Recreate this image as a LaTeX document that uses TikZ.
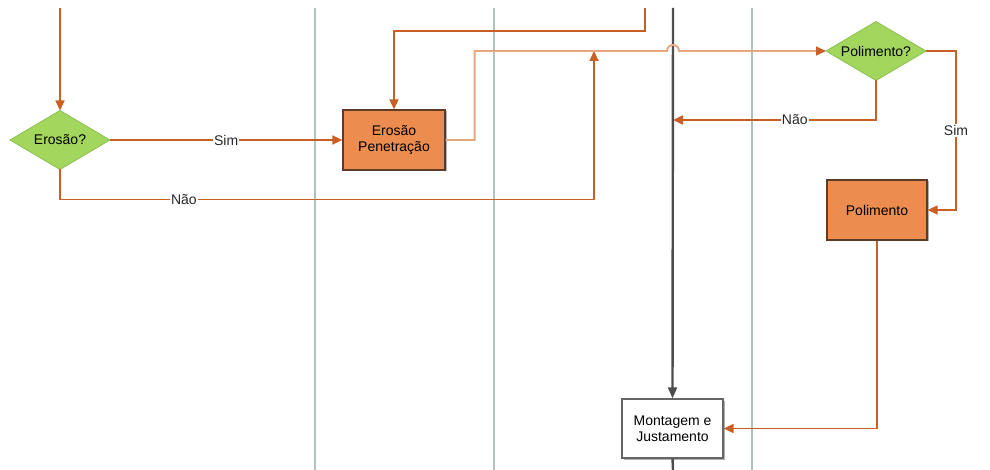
\documentclass[tikz,border=0pt]{standalone}
\usepackage{fontspec}
\setmainfont{Liberation Sans}
\usetikzlibrary{arrows.meta,shapes.geometric,shadows,calc}

\definecolor{flow}{HTML}{C95F24}
\definecolor{flowlight}{HTML}{E9A57F}
\definecolor{taskfill}{HTML}{EC8C4F}
\definecolor{taskline}{HTML}{5C3B28}
\definecolor{decfill}{HTML}{A2D65C}
\definecolor{decline}{HTML}{8CC152}
\definecolor{lane}{HTML}{AFC3BE}
\definecolor{spinegray}{HTML}{4D4D4D}
\definecolor{labeltext}{HTML}{262626}

\begin{document}
\begin{tikzpicture}[x=1pt,y=-1pt,
  font=\fontsize{14}{16.5}\selectfont,
  boxshadow/.style={drop shadow={shadow xshift=1.5pt,shadow yshift=-1.5pt,opacity=0.3,fill=black}},
  task/.style={rectangle,draw=taskline,fill=taskfill,line width=1.2pt,
    minimum width=102pt,minimum height=60pt,align=center,inner sep=2pt,boxshadow},
  plainbox/.style={rectangle,draw=gray!80!black,fill=white,line width=1.2pt,
    minimum width=101pt,minimum height=59pt,align=center,inner sep=2pt,boxshadow},
  decision/.style={diamond,draw=decline,fill=decfill,line width=0.8pt,
    minimum width=100pt,minimum height=59pt,aspect=1.7,inner sep=0pt,outer sep=0pt},
  lanerule/.style={draw=lane,line width=1.4pt},
  flowline/.style={draw=flow,line width=1.7pt,-{Triangle[length=10pt,width=9pt]}},
  spine/.style={draw=spinegray,line width=2.4pt},
  edgelabel/.style={fill=white,inner sep=1pt,text=labeltext}]

\useasboundingbox (0,0) rectangle (990,470);

% swimlane separators
\draw[lanerule] (315,8) -- (315,470);
\draw[lanerule] (494,8) -- (494,470);
\draw[lanerule] (752,8) -- (752,470);

% process nodes
\node[decision] (ero) at (60,140) {Erosão?};
\node[task] (pen) at (394,140) {Erosão\\Penetração};
\node[decision] (pol) at (876,51) {Polimento?};
\node[task,minimum width=100pt] (poli) at (877,210) {Polimento};
\node[plainbox] (mont) at (672.5,428.5) {Montagem e\\Justamento};

% free ends of the incoming flows
\coordinate (inA) at (60,8);
\coordinate (inB) at (645,8);
\coordinate (spinetop) at (673,8);
\coordinate (spinebot) at (673,470);

% main vertical flow
\draw[spine,-{Triangle[length=11pt,width=9pt]}] (spinetop) -- (mont.north);
\draw[spine] (mont.south) -- (spinebot);

% incoming flows
\draw[flowline] (inA) -- (ero.north);
\draw[flowline] (inB) -- ++(0,23) -| (pen.north);

% decision: erosion
\draw[flowline] (ero.east) -- node[edgelabel]{Sim} (pen.west);
\draw[flowline] (ero.south) -- ++(0,30) -| node[edgelabel,pos=0.116]{Não} (594,51);

% erosion output, hopping over the main flow
\draw[draw=flowlight,line width=1.9pt]
  (pen.east) -- ++(29,0) |- ($(spinetop |- pol.west)+(-6,0)$)
  arc[start angle=180,end angle=360,radius=6] -- ($(pol.west)+(-9,0)$);
\draw[flowline] ($(pol.west)+(-10,0)$) -- (pol.west);

% decision: polishing
\draw[flowline] (pol.south) |- node[edgelabel,pos=0.70]{Não} (spinetop |- 0,120);
\draw[flowline] (pol.east) -- ++(30,0) |- node[edgelabel,pos=0.25]{Sim} (poli.east);
\draw[flowline] (poli.south) |- (mont.east);

\end{tikzpicture}
\end{document}
